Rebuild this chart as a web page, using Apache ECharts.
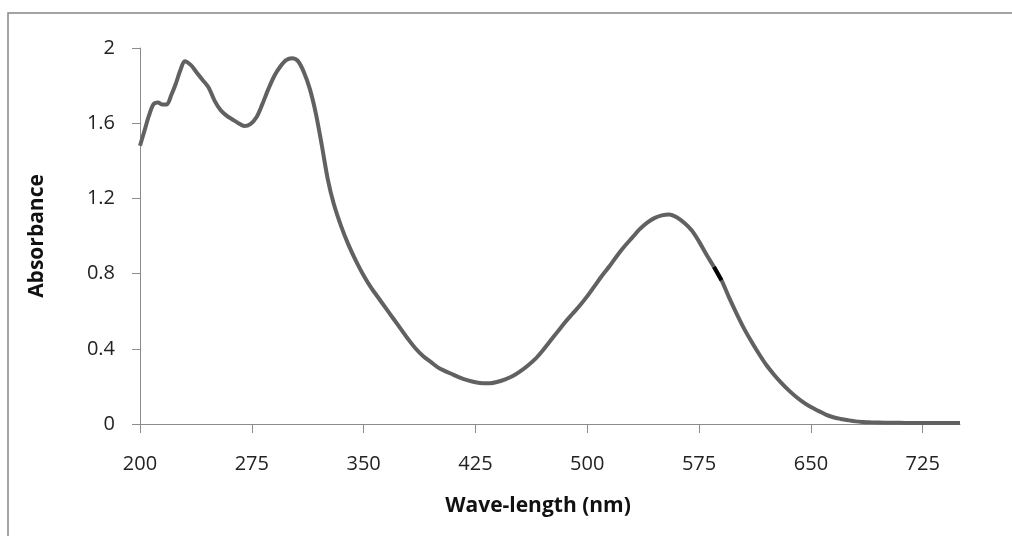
<!DOCTYPE html>
<html>
<head>
<meta charset="utf-8">
<script src="https://cdn.jsdelivr.net/npm/echarts@6/dist/echarts.min.js"></script>
<style>
  html, body { margin: 0; padding: 0; background: #fff; }
  #main { width: 1012px; height: 536px; }
</style>
</head>
<body>
<div id="main"></div>
<script>
// wave-length (nm) and absorbance
var waveLength = [200, 203, 206, 209, 212, 215, 218, 221, 224, 227, 230, 234, 238, 242, 246, 250, 254, 258, 262, 266, 270, 274, 278, 282, 286, 290, 294, 298, 302, 306, 310, 314, 318, 322, 326, 330, 335, 340, 345, 350, 355, 360, 365, 370, 375, 380, 385, 390, 395, 400, 405, 410, 415, 420, 425, 430, 435, 440, 445, 450, 455, 460, 465, 470, 475, 480, 485, 490, 495, 500, 505, 510, 515, 520, 525, 530, 535, 540, 545, 550, 555, 560, 565, 570, 575, 580, 585, 590, 595, 600, 605, 610, 615, 620, 625, 630, 635, 640, 645, 650, 655, 660, 665, 670, 675, 680, 685, 690, 700, 710, 720, 730, 740, 750];
var absorbance = [1.48, 1.56, 1.64, 1.70, 1.71, 1.70, 1.70, 1.75, 1.81, 1.88, 1.93, 1.91, 1.87, 1.83, 1.79, 1.72, 1.67, 1.64, 1.62, 1.60, 1.585, 1.595, 1.63, 1.70, 1.78, 1.85, 1.90, 1.935, 1.945, 1.93, 1.87, 1.78, 1.65, 1.48, 1.30, 1.17, 1.05, 0.95, 0.865, 0.79, 0.725, 0.67, 0.615, 0.56, 0.505, 0.45, 0.40, 0.36, 0.33, 0.30, 0.28, 0.263, 0.245, 0.232, 0.222, 0.217, 0.217, 0.225, 0.238, 0.255, 0.28, 0.31, 0.345, 0.39, 0.44, 0.49, 0.54, 0.585, 0.63, 0.68, 0.735, 0.79, 0.84, 0.895, 0.945, 0.99, 1.035, 1.07, 1.095, 1.11, 1.115, 1.10, 1.07, 1.03, 0.97, 0.90, 0.835, 0.765, 0.675, 0.59, 0.51, 0.44, 0.375, 0.315, 0.265, 0.22, 0.18, 0.145, 0.115, 0.09, 0.07, 0.05, 0.036, 0.027, 0.02, 0.014, 0.011, 0.009, 0.007, 0.006, 0.005, 0.005, 0.005, 0.005];
// small dark piece on the falling side
var darkWave = [585, 590];
var darkAbs = [0.835, 0.765];
var xTicks = [200, 275, 350, 425, 500, 575, 650, 725];

var points = [];
for (var i = 0; i < waveLength.length; i++) {
    points.push([waveLength[i], absorbance[i]]);
}
var darkPoints = [];
for (var j = 0; j < darkWave.length; j++) {
    darkPoints.push([darkWave[j], darkAbs[j]]);
}

var font = '"Open Sans", "Noto Sans", sans-serif';
var axisGray = '#8c8c8c';

var myChart = echarts.init(document.getElementById('main'));
var option = {
    animation: false,
    backgroundColor: '#fff',
    graphic: [{
        type: 'rect',
        shape: { x: 8, y: 13, width: 1100, height: 600 },
        style: { fill: 'none', stroke: '#878787', lineWidth: 1.5 },
        silent: true
    }],
    grid: { left: 140, right: 52, top: 48, bottom: 112 },
    xAxis: {
        type: 'value',
        min: 200,
        max: 750,
        name: 'Wave-length (nm)',
        nameLocation: 'middle',
        nameGap: 72,
        nameTextStyle: { fontFamily: font, fontSize: 21, fontWeight: 'bold', color: '#111', padding: [0, 24, 0, 0] },
        axisLine: { lineStyle: { color: axisGray, width: 1 } },
        axisTick: { show: true, length: 9, lineStyle: { color: axisGray }, customValues: xTicks },
        axisLabel: { fontFamily: font, fontSize: 20, color: '#222', margin: 30, customValues: xTicks },
        splitLine: { show: false }
    },
    yAxis: {
        type: 'value',
        min: 0,
        max: 2,
        interval: 0.4,
        name: 'Absorbance',
        nameLocation: 'middle',
        nameGap: 92,
        nameTextStyle: { fontFamily: font, fontSize: 21, fontWeight: 'bold', color: '#111' },
        axisLine: { show: true, lineStyle: { color: axisGray, width: 1 } },
        axisTick: { show: true, length: 8, lineStyle: { color: axisGray } },
        axisLabel: { fontFamily: font, fontSize: 20, color: '#222', margin: 25 },
        splitLine: { show: false }
    },
    series: [{
        type: 'line',
        data: points,
        showSymbol: false,
        smooth: 0.3,
        lineStyle: { color: '#616161', width: 4 },
        z: 2
    }, {
        type: 'line',
        data: darkPoints,
        showSymbol: false,
        lineStyle: { color: '#000', width: 4 },
        z: 3
    }]
};
myChart.setOption(option);
</script>
</body>
</html>
